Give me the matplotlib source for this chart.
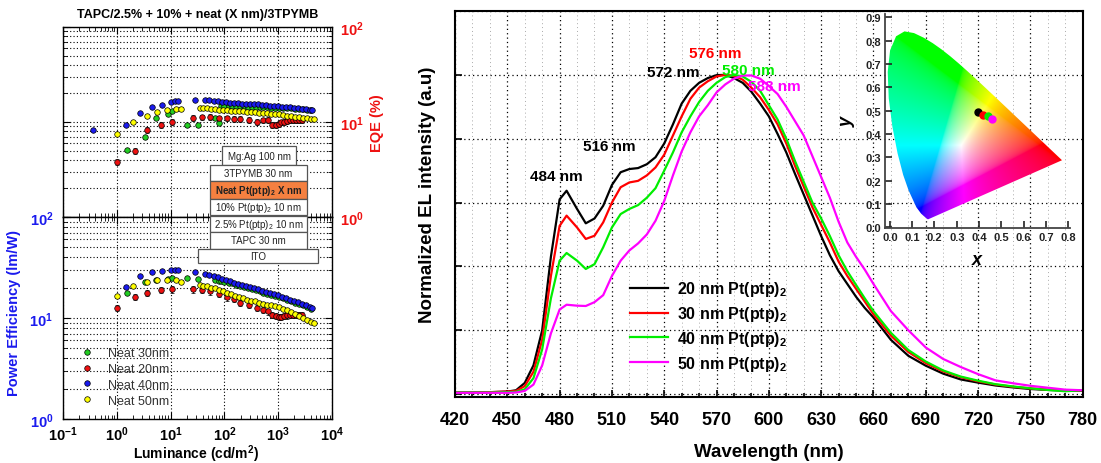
import numpy as np
import matplotlib
matplotlib.use("Agg")
import matplotlib.pyplot as plt
from matplotlib.patches import Rectangle, Polygon
from matplotlib.lines import Line2D
from matplotlib.ticker import LogLocator, FuncFormatter, MultipleLocator, NullFormatter

plt.rcParams['font.family'] = ['Liberation Sans', 'DejaVu Sans']
plt.rcParams['mathtext.fontset'] = 'custom'
plt.rcParams['mathtext.rm'] = 'Liberation Sans'
plt.rcParams['mathtext.it'] = 'Liberation Sans:italic'
plt.rcParams['mathtext.bf'] = 'Liberation Sans:bold'

W, H = 1101, 464

# ---------------- efficiency data (luminance in cd/m2, EQE in %, PE in lm/W)
g_lum = [1.53, 3.37, 5.3, 8.9, 10.8, 20, 33, 68, 78, 85, 100, 120, 140, 165, 195, 230, 270, 320,
         380, 450, 530, 630, 750, 890, 1050, 1250, 1480, 1750, 2080, 2470, 2930, 3470, 4100]
g_eqe = [5.07, 6.9, 11.0, 12.1, 13.1, 9.2, 9.2, 10.9, 9.8, 14.9, 14.8, 14.8, 14.7, 14.7, 14.6, 14.6,
         14.5, 14.5, 14.4, 14.4, 14.3, 14.3, 14.2, 14.2, 14.1, 14.0, 13.9, 13.9, 13.8, 13.7, 13.6, 13.5, 13.4]
g_pe = [17.7, 22.9, 23.7, 24.5, 24.9, 24.9, 24.4, 23.9, 23.5, 23.2, 22.9, 22.4, 22.0, 21.4, 20.9, 20.4,
        19.9, 19.4, 18.9, 18.3, 17.8, 17.3, 16.9, 16.5, 16.1, 15.6, 15.1, 14.6, 14.2, 13.8, 13.3, 12.8, 12.3]

r_lum = [1.03, 2.2, 3.6, 6.6, 10.8, 26.6, 38, 55, 78, 112, 149, 197, 282, 401, 520, 640, 780, 900,
         1020, 1150, 1300, 1470, 1660, 1870, 2100, 2400, 2800]
r_eqe = [3.8, 5.0, 8.3, 9.3, 10.0, 11.0, 11.2, 11.4, 10.9, 10.9, 10.8, 10.8, 10.6, 10.0, 10.4, 10.6,
         9.3, 9.4, 9.6, 9.9, 10.1, 10.3, 10.4, 10.5, 10.5, 10.6, 10.6]
r_pe = [12.6, 16.1, 17.7, 18.9, 19.2, 19.2, 19.0, 18.3, 17.3, 16.0, 15.4, 14.2, 13.4, 12.5, 12.0, 11.6,
        10.7, 10.4, 10.2, 10.3, 10.4, 10.6, 10.7, 10.8, 10.8, 10.8, 10.8]

b_lum = [0.36, 1.5, 2.7, 4.5, 6.9, 10.3, 12, 14, 28, 44, 52, 63, 75, 90, 108, 128, 150, 180, 215,
         255, 300, 355, 420, 500, 590, 700, 830, 980, 1160, 1380, 1640, 1950, 2300, 2750, 3250, 3850, 4300]
b_eqe = [8.3, 9.4, 12.4, 14.3, 15.1, 16.2, 16.5, 16.6, 17.1, 17.2, 17.0, 16.7, 16.6, 16.4, 16.2, 16.0,
         15.8, 15.7, 15.6, 15.6, 15.5, 15.5, 15.3, 15.2, 15.0, 14.9, 14.7, 14.6, 14.5, 14.4, 14.3, 14.2,
         14.0, 13.8, 13.6, 13.5, 13.4]
b_pe = [np.nan, 20.4, 25.9, 28.7, 28.9, 30.1, 29.9, 29.8, 28.3, 27.3, 26.8, 26.0, 25.3, 24.6, 23.8,
        23.1, 22.2, 21.7, 21.2, 20.6, 20.1, 19.7, 19.3, 18.6, 18.1, 17.6, 17.2, 16.9, 16.3, 15.8, 15.2,
        14.7, 14.3, 13.9, 13.4, 12.9, 12.5]

y_lum = [1.03, 2.04, 3.6, 5.7, 8.5, 12.5, 15.5, 34.7, 40, 48, 57, 68, 80, 95, 112, 133, 158, 187, 222,
         263, 312, 370, 440, 520, 620, 735, 870, 1030, 1220, 1450, 1720, 2040, 2420, 2870, 3400, 4030, 4600]
y_eqe = [7.5, 9.9, 11.6, 12.8, 13.5, 13.6, 13.8, 13.9, 13.9, 13.9, 13.8, 13.6, 13.5, 13.4, 13.3, 13.2,
         13.1, 13.0, 12.9, 12.8, 12.7, 12.6, 12.5, 12.4, 12.3, 12.2, 12.1, 12.0, 11.9, 11.7, 11.6, 11.4,
         11.2, 11.1, 10.9, 10.8, 10.7]
y_pe = [16.4, 20.6, 22.9, 23.9, 23.9, 23.7, 22.9, 21.3, 20.9, 20.6, 20.0, 19.6, 19.1, 18.4, 17.8, 17.2,
        16.5, 16.0, 15.6, 15.2, 14.9, 14.6, 14.2, 13.9, 13.6, 13.4, 13.2, 12.9, 12.4, 12.0, 11.5, 11.0,
        10.5, 10.0, 9.6, 9.2, 8.9]

eff_labels = ['Neat 30nm', 'Neat 20nm', 'Neat 40nm', 'Neat 50nm']
eff_colors = ['#22cc22', '#ee1111', '#1a1aee', '#ffff00']
eff_err = [0.03, 0.07, 0.02, 0.03]   # relative error bar size

stack_layers = ['Mg:Ag 100 nm', '3TPYMB 30 nm', r'Neat Pt(ptp)$_\mathbf{2}$ X nm',
                r'10% Pt(ptp)$_2$ 10 nm', r'2.5% Pt(ptp)$_2$ 10 nm', 'TAPC 30 nm', 'ITO']

# ---------------- EL spectra (normalized)
wl = [420, 430, 440, 450, 455, 460, 465, 470, 475, 480, 484,
      490, 495, 500, 505, 510, 515, 520, 525, 530, 535, 540, 545, 550, 555, 560, 565, 570, 575, 580,
      585, 590, 595, 600, 605, 610, 615, 620, 625, 630, 635, 640, 645, 650, 655, 660,
      670, 680, 690, 700, 710, 720, 730, 740, 750, 760, 770, 780]
el_20 = [0.005, 0.005, 0.006, 0.008, 0.012, 0.035, 0.09, 0.2, 0.43, 0.61, 0.637,
         0.58, 0.535, 0.55, 0.59, 0.655, 0.695, 0.705, 0.708, 0.72, 0.742, 0.785, 0.845, 0.91, 0.95,
         0.975, 0.99, 0.999, 1.0, 0.99, 0.975, 0.947, 0.91, 0.87, 0.815, 0.757, 0.69, 0.625, 0.56,
         0.495, 0.435, 0.385, 0.345, 0.305, 0.27, 0.24,
         0.17, 0.12, 0.089, 0.064, 0.046, 0.036, 0.027, 0.021, 0.016, 0.013, 0.011, 0.01]
el_30 = [0.005, 0.005, 0.006, 0.008, 0.01, 0.025, 0.07, 0.17, 0.37, 0.527, 0.559,
         0.522, 0.486, 0.496, 0.538, 0.60, 0.648, 0.663, 0.668, 0.685, 0.71, 0.75, 0.81, 0.87, 0.925,
         0.96, 0.98, 0.995, 1.0, 0.997, 0.985, 0.96, 0.93, 0.89, 0.845, 0.785, 0.715, 0.65, 0.585,
         0.53, 0.475, 0.415, 0.37, 0.33, 0.29, 0.25,
         0.183, 0.132, 0.097, 0.071, 0.053, 0.04, 0.03, 0.023, 0.018, 0.014, 0.012, 0.011]
el_40 = [0.005, 0.005, 0.005, 0.006, 0.007, 0.015, 0.05, 0.14, 0.30, 0.418, 0.442,
         0.418, 0.392, 0.407, 0.46, 0.522, 0.564, 0.58, 0.592, 0.615, 0.645, 0.70, 0.757, 0.82, 0.87,
         0.915, 0.95, 0.975, 0.993, 1.0, 0.995, 0.978, 0.95, 0.905, 0.86, 0.8, 0.73, 0.665, 0.6,
         0.55, 0.495, 0.435, 0.385, 0.342, 0.30, 0.26,
         0.192, 0.138, 0.102, 0.074, 0.055, 0.042, 0.031, 0.024, 0.018, 0.013, 0.009, 0.012]
el_50 = [0.004, 0.004, 0.004, 0.004, 0.005, 0.01, 0.03, 0.09, 0.19, 0.265, 0.28,
         0.277, 0.276, 0.288, 0.31, 0.37, 0.418, 0.45, 0.472, 0.50, 0.543, 0.605, 0.685, 0.76, 0.82,
         0.87, 0.905, 0.945, 0.97, 0.988, 0.998, 0.998, 0.988, 0.965, 0.94, 0.90, 0.855, 0.81, 0.745,
         0.68, 0.615, 0.54, 0.475, 0.43, 0.39, 0.345,
         0.26, 0.2, 0.146, 0.11, 0.085, 0.0625, 0.043, 0.034, 0.026, 0.02, 0.014, 0.012]
el_labels = [r'20 nm Pt(ptp)$_\mathbf{2}$', r'30 nm Pt(ptp)$_\mathbf{2}$',
             r'40 nm Pt(ptp)$_\mathbf{2}$', r'50 nm Pt(ptp)$_\mathbf{2}$']
el_colors = ['black', '#ff0000', '#00ee00', '#ff00ff']

# CIE coordinates of the four devices
cie_x = [0.396, 0.419, 0.441, 0.457]
cie_y = [0.496, 0.482, 0.479, 0.465]

# CIE 1931 spectral locus (380 ... 700 nm)
locus_x = [0.1741, 0.1738, 0.1733, 0.1726, 0.1714, 0.1689, 0.1644, 0.1566, 0.1440, 0.1241, 0.0913,
           0.0687, 0.0454, 0.0235, 0.0082, 0.0039, 0.0139, 0.0389, 0.0743, 0.1142, 0.1547, 0.1929,
           0.2296, 0.2658, 0.3016, 0.3373, 0.3731, 0.4087, 0.4441, 0.4788, 0.5125, 0.5448, 0.5752,
           0.6029, 0.6270, 0.6482, 0.6658, 0.6915, 0.7079, 0.7190, 0.7260, 0.7300, 0.7347]
locus_y = [0.0050, 0.0049, 0.0048, 0.0048, 0.0051, 0.0069, 0.0109, 0.0177, 0.0297, 0.0578, 0.1327,
           0.2007, 0.2950, 0.4127, 0.5384, 0.6548, 0.7502, 0.8120, 0.8338, 0.8262, 0.8059, 0.7816,
           0.7543, 0.7243, 0.6923, 0.6589, 0.6245, 0.5896, 0.5547, 0.5202, 0.4866, 0.4544, 0.4242,
           0.3965, 0.3725, 0.3514, 0.3340, 0.3083, 0.2920, 0.2809, 0.2740, 0.2700, 0.2653]


def fig_rect(x0, y0, x1, y1):
    # pixel box (top-left origin) -> figure fraction [left, bottom, width, height]
    return [x0 / W, 1 - y1 / H, (x1 - x0) / W, (y1 - y0) / H]


def pow10(v, pos):
    return r'$\mathbf{10^{%d}}$' % int(round(np.log10(v)))


def setup_log_axes(ax):
    ax.set_xscale('log')
    ax.set_yscale('log')
    ax.set_xlim(0.1, 1e4)
    ax.set_ylim(1, 100)
    ax.xaxis.set_major_locator(LogLocator(base=10, numticks=10))
    ax.xaxis.set_minor_locator(LogLocator(base=10, subs=np.arange(2, 10), numticks=10))
    ax.yaxis.set_major_locator(LogLocator(base=10, numticks=10))
    ax.yaxis.set_minor_locator(LogLocator(base=10, subs=np.arange(2, 10), numticks=10))
    ax.xaxis.set_minor_formatter(NullFormatter())
    ax.yaxis.set_minor_formatter(NullFormatter())
    ax.xaxis.set_major_formatter(FuncFormatter(pow10))
    ax.yaxis.set_major_formatter(FuncFormatter(pow10))
    ax.grid(True, which='major', axis='x', color='black', linestyle=(0, (1, 2)), linewidth=0.8)
    ax.grid(True, which='both', axis='y', color='black', linestyle=(0, (1, 2)), linewidth=0.8)
    ax.tick_params(which='both', direction='in', top=True, bottom=True, left=True, right=True,
                   labelsize=10.5)
    ax.tick_params(which='major', length=5)
    ax.tick_params(which='minor', length=3)
    for s in ax.spines.values():
        s.set_linewidth(1.0)


def plot_eff(ax, which):
    for lum, eqe, pe, col, err, lab in zip([g_lum, r_lum, b_lum, y_lum], [g_eqe, r_eqe, b_eqe, y_eqe],
                                           [g_pe, r_pe, b_pe, y_pe], eff_colors, eff_err, eff_labels):
        vals = np.array(eqe if which == 'eqe' else pe, dtype=float)
        ax.errorbar(lum, vals, yerr=vals * err, fmt='o', ms=4, mfc=col, mec='black', mew=0.5,
                    ecolor='black', elinewidth=0.6, capsize=1.5, capthick=0.6, label=lab)


fig = plt.figure(figsize=(W / 100, H / 100), dpi=100)

# ---------------- left: EQE (top) and power efficiency (bottom)
ax_eqe = fig.add_axes(fig_rect(63, 28, 332, 218))
setup_log_axes(ax_eqe)
plot_eff(ax_eqe, 'eqe')
ax_eqe.tick_params(labelbottom=False, labelleft=False, labelright=True, pad=6)
for t in ax_eqe.get_yticklabels():
    t.set_color('#ee1111')
ax_eqe.yaxis.set_label_position('right')
ax_eqe.set_ylabel('EQE (%)', color='#ee1111', fontsize=10.5, fontweight='bold')
ax_eqe.yaxis.set_label_coords(1.14, 0.5)
ax_eqe.set_title('TAPC/2.5% + 10% + neat (X nm)/3TPYMB', fontsize=9, fontweight='bold', pad=7)

ax_pe = fig.add_axes(fig_rect(63, 218, 332, 420))
setup_log_axes(ax_pe)
plot_eff(ax_pe, 'pe')
ax_pe.tick_params(labelright=False, pad=7)
ax_pe.tick_params(axis='x', pad=4)
for t in ax_pe.get_yticklabels():
    t.set_color('#1a1aee')
ax_pe.set_ylabel('Power Efficiency (lm/W)', color='#1a1aee', fontsize=10.5, fontweight='bold')
ax_pe.yaxis.set_label_coords(-0.155, 0.53)
ax_pe.set_xlabel(r'Luminance (cd/m$^\mathbf{2}$)', fontsize=10, fontweight='bold')
ax_pe.xaxis.set_label_coords(0.494, -0.115)
leg_handles = [Line2D([], [], linestyle='none', marker='o', ms=4, mfc=c, mec='black', mew=0.5)
               for c in eff_colors]
leg = ax_pe.legend(leg_handles, eff_labels, loc='upper left', bbox_to_anchor=(0.066, 0.355),
                   frameon=False, fontsize=9, handlelength=1.0, handletextpad=1.2,
                   labelspacing=0.3, borderpad=0, borderaxespad=0)
for t in leg.get_texts():
    t.set_color('#333333')

# device stack sketch
stack_boxes = [(222, 147, 296, 166), (210, 166, 307, 182), (210, 182, 307, 200), (210, 200, 307, 216),
               (210, 217, 307, 233), (210, 233, 307, 250), (198, 250, 318, 264)]
for (x0, y0, x1, y1), name in zip(stack_boxes, stack_layers):
    face = '#f58040' if 'Neat' in name else 'white'
    r = fig_rect(x0, y0, x1, y1)
    fig.add_artist(Rectangle((r[0], r[1]), r[2], r[3], transform=fig.transFigure,
                             facecolor=face, edgecolor='#555555', linewidth=0.9))
    fig.text(r[0] + r[2] / 2, r[1] + r[3] / 2, name, ha='center', va='center', fontsize=7,
             fontweight='bold' if 'Neat' in name else 'normal', color='#222222')

# ---------------- right: EL spectra
ax = fig.add_axes(fig_rect(455, 12, 1082.7, 398.3))
for vals, col, lab in zip([el_20, el_30, el_40, el_50], el_colors, el_labels):
    ax.plot(wl, vals, color=col, linewidth=1.6, label=lab)
ax.set_xlim(420, 780)
ax.set_ylim(-0.01, 1.2)
ax.xaxis.set_major_locator(MultipleLocator(30))
ax.xaxis.set_minor_locator(MultipleLocator(10))
ax.yaxis.set_major_locator(MultipleLocator(0.2))
ax.set_yticklabels([])
ax.grid(True, which='major', color='black', linestyle=(0, (1, 2.5)), linewidth=0.9)
ax.grid(True, which='minor', axis='x', color='#aaaaaa', linestyle=(0, (1, 3)), linewidth=0.7)
ax.tick_params(which='both', direction='in', top=False, right=False, width=1.2)
ax.tick_params(which='major', length=5, labelsize=13, pad=10)
ax.tick_params(which='minor', length=3)
for t in ax.get_xticklabels():
    t.set_fontweight('bold')
for s in ax.spines.values():
    s.set_linewidth(1.5)
ax.set_xlabel('Wavelength (nm)', fontsize=13.5, fontweight='bold')
ax.xaxis.set_label_coords(0.5, -0.118)
ax.set_ylabel('Normalized EL intensity (a.u)', fontsize=13.5, fontweight='bold')
ax.yaxis.set_label_coords(-0.03, 0.526)
ax.legend(loc='upper left', bbox_to_anchor=(0.279, 0.305), frameon=False,
          prop={'size': 11.5, 'weight': 'bold'}, handlelength=2.4, handletextpad=0.55,
          labelspacing=0.36, borderpad=0, borderaxespad=0)

peak_text = [('484 nm', 478.3, 0.684, 'black'), ('516 nm', 508.5, 0.778, 'black'),
             ('572 nm', 545.2, 1.008, 'black'), ('576 nm', 569.2, 1.068, '#ff0000'),
             ('580 nm', 588.0, 1.016, '#00ee00'), ('588 nm', 603.2, 0.965, '#ff00ff')]
for txt, xx, yy, col in peak_text:
    ax.text(xx, yy, txt, color=col, fontsize=11, fontweight='bold', ha='center', va='center')

# ---------------- inset: CIE 1931 diagram
ax_in = fig.add_axes(fig_rect(885, 15, 1070, 229.3))
ax_in.set_facecolor('none')
# the pasted diagram is slightly stretched relative to the axes
lx = np.array(locus_x) * 1.07 - 0.014
ly = np.array(locus_y) * 0.971 + 0.03
u = np.linspace(-0.03, 0.82, 420)
v = np.linspace(0.0, 0.92, 420)
U, V = np.meshgrid(u, v)
cx = (U + 0.014) / 1.07
cy = np.clip((V - 0.03) / 0.971, 1e-3, None)
XYZ = np.stack([cx / cy, np.ones_like(cx), (1 - cx - cy) / cy])
M = np.array([[3.2406, -1.5372, -0.4986], [-0.9689, 1.8758, 0.0415], [0.0557, -0.2040, 1.0570]])
rgb = np.einsum('ij,jkl->kli', M, XYZ)
rgb = np.clip(rgb, 0, None)
rgb = rgb / (rgb.max(axis=2, keepdims=True) + 1e-9)
rgb = rgb ** (1 / 2.2)
im = ax_in.imshow(rgb, extent=(u[0], u[-1], v[0], v[-1]), origin='lower', aspect='auto',
                  interpolation='bilinear', zorder=1)
horseshoe = Polygon(np.column_stack([lx, ly]), closed=True, facecolor='none', edgecolor='none')
ax_in.add_patch(horseshoe)
im.set_clip_path(horseshoe)
for xx, yy, col in zip(cie_x, cie_y, el_colors):
    ax_in.plot(xx, yy, 'o', color=col, ms=5, zorder=3)
ax_in.set_xlim(-0.022, 0.808)
ax_in.set_ylim(-0.004, 0.914)
ax_in.xaxis.set_major_locator(MultipleLocator(0.1))
ax_in.yaxis.set_major_locator(MultipleLocator(0.1))
ax_in.xaxis.set_major_formatter(FuncFormatter(lambda val, p: '%.1f' % val))
ax_in.yaxis.set_major_formatter(FuncFormatter(lambda val, p: '%.1f' % val))
ax_in.tick_params(direction='in', length=5, width=1.2, colors='#222222', labelsize=8, pad=3)
for t in ax_in.get_xticklabels() + ax_in.get_yticklabels():
    t.set_fontweight('bold')
ax_in.spines['top'].set_visible(False)
ax_in.spines['right'].set_visible(False)
for s in ['left', 'bottom']:
    ax_in.spines[s].set_linewidth(1.3)
    ax_in.spines[s].set_color('#444444')
ax_in.set_xlabel('x', fontsize=13, fontweight='bold', style='italic')
ax_in.xaxis.set_label_coords(0.496, -0.105)
ax_in.set_ylabel('y', fontsize=13, fontweight='bold', style='italic')
ax_in.yaxis.set_label_coords(-0.16, 0.502)

fig.savefig('out.png', dpi=100)
